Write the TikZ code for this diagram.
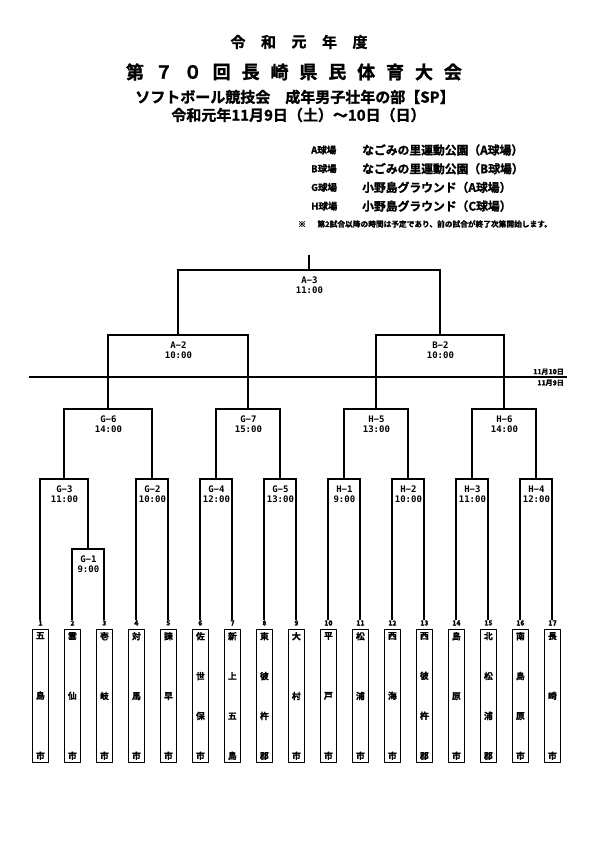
\documentclass[tikz,border=0pt]{standalone}
\usepackage{fontspec}
\setmainfont{Noto Sans CJK JP}[BoldFont={Noto Sans CJK JP Bold}, BoldFeatures={FakeBold=1.3}]
\newfontfamily\monofont{DejaVu Sans Mono}
\usetikzlibrary{positioning}

\newcommand{\tatename}[1]{\parbox[c][127pt][s]{11pt}{\centering #1}}

\begin{document}
\begin{tikzpicture}[x=1pt, y=-1pt,
    every node/.style={font=\bfseries, inner sep=0pt},
    bracket/.style={line width=2.1pt},
    dayline/.style={line width=1.7pt},
    match/.style={font=\monofont\bfseries\fontsize{9}{10}\selectfont, align=center, anchor=north, yshift=-6.5pt},
    teambox/.style={draw, line width=1.3pt, minimum width=15.5pt, minimum height=133pt, font=\bfseries\fontsize{8.8}{9}\selectfont},
    teamno/.style={font=\bfseries\fontsize{7}{7}\selectfont},
    ground/.style={anchor=west, font=\bfseries\fontsize{9.5}{10}\selectfont},
    venue/.style={anchor=west, font=\bfseries\fontsize{11.8}{12}\selectfont},
  ]
  \useasboundingbox (0,0) rectangle (595,842);

  % titles
  \foreach \c [count=\k] in {令,和,元,年,度}
    \node[font=\bfseries\fontsize{15}{15}\selectfont] (nendo\k) at ({238+30.5*(\k-1)},42) {\c};
  \foreach \c [count=\k] in {第,７,０,回,長,崎,県,民,体,育,大,会}
    \node[font=\bfseries\fontsize{18}{18}\selectfont] (taikai\k) at ({135+28.9*(\k-1)},72) {\c};
  \node[font=\bfseries\fontsize{15}{15}\selectfont] (bumon) at (295,97) {ソフトボール競技会　成年男子壮年の部【SP】};
  \node[font=\bfseries\fontsize{15}{15}\selectfont] (kaisai) at (298.5,115) {令和元年11月9日（土）～10日（日）};

  % grounds
  \foreach \k/\grd/\park in {0/A球場/なごみの里運動公園（A球場）, 1/B球場/なごみの里運動公園（B球場）, 2/G球場/小野島グラウンド（A球場）, 3/H球場/小野島グラウンド（C球場）} {
    \node[ground] (g\k) at (311,{150+18.7*\k}) {\grd};
    \node[venue] (v\k) at (362,{150+18.7*\k}) {\park};
  }
  \node[anchor=west, font=\bfseries\fontsize{7.7}{8}\selectfont] (note) at (298,224) {※\hspace{1.5em}第2試合以降の時間は予定であり、前の試合が終了次第開始します。};

  % teams
  \foreach \i/\name in {1/{五\vfill 島\vfill 市}, 2/{雲\vfill 仙\vfill 市}, 3/{壱\vfill 岐\vfill 市},
      4/{対\vfill 馬\vfill 市}, 5/{諫\vfill 早\vfill 市}, 6/{佐\vfill 世\vfill 保\vfill 市},
      7/{新\vfill 上\vfill 五\vfill 島}, 8/{東\vfill 彼\vfill 杵\vfill 郡}, 9/{大\vfill 村\vfill 市},
      10/{平\vfill 戸\vfill 市}, 11/{松\vfill 浦\vfill 市}, 12/{西\vfill 海\vfill 市},
      13/{西\vfill 彼\vfill 杵\vfill 郡}, 14/{島\vfill 原\vfill 市}, 15/{北\vfill 松\vfill 浦\vfill 郡},
      16/{南\vfill 島\vfill 原\vfill 市}, 17/{長\vfill 崎\vfill 市}} {
    \node[teamno] (n\i) at ({40.4+32*(\i-1)},623) {\i};
    \node[teambox] (t\i) at ({40.4+32*(\i-1)},696) {\tatename{\name}};
  }

  % matches
  \foreach \m/\x/\y/\lab/\when in {G1/88.4/549/G−1/9:00, G2/152.4/479/G−2/10:00,
      G3/64.4/479/G−3/11:00, G4/216.4/479/G−4/12:00, G5/280.4/479/G−5/13:00,
      G6/108.4/409/G−6/14:00, G7/248.4/409/G−7/15:00,
      H1/344.4/479/H−1/9:00, H2/408.4/479/H−2/10:00, H3/472.4/479/H−3/11:00,
      H4/536.4/479/H−4/12:00, H5/376.4/409/H−5/13:00, H6/504.4/409/H−6/14:00,
      A2/178.4/335/A−2/10:00, B2/440.4/335/B−2/10:00, A3/309.4/270/A−3/11:00} {
    \coordinate (\m) at (\x,\y);
    \node[match] (\m-lbl) at (\m) {\lab\\\when};
  }
  \coordinate (top) at (309.4,255);

  \draw[bracket] (n2.north) |- (G1) -| (n3.north);
  \draw[bracket] (n1.north) |- (G3) -| (G1);
  \draw[bracket] (n4.north) |- (G2) -| (n5.north);
  \draw[bracket] (n6.north) |- (G4) -| (n7.north);
  \draw[bracket] (n8.north) |- (G5) -| (n9.north);
  \draw[bracket] (n10.north) |- (H1) -| (n11.north);
  \draw[bracket] (n12.north) |- (H2) -| (n13.north);
  \draw[bracket] (n14.north) |- (H3) -| (n15.north);
  \draw[bracket] (n16.north) |- (H4) -| (n17.north);
  \draw[bracket] (G3) |- (G6) -| (G2);
  \draw[bracket] (G4) |- (G7) -| (G5);
  \draw[bracket] (H1) |- (H5) -| (H2);
  \draw[bracket] (H3) |- (H6) -| (H4);
  \draw[bracket] (G6) |- (A2) -| (G7);
  \draw[bracket] (H5) |- (B2) -| (H6);
  \draw[bracket] (A2) |- (A3) -| (B2);
  \draw[bracket] (A3) -- (top);

  % day border
  \coordinate (dleft) at (29,377);
  \coordinate (dright) at (567,377);
  \draw[dayline] (dleft) -- (dright);
  \node[anchor=south east, font=\bfseries\fontsize{7}{7}\selectfont] (day10) at (564,375) {11月10日};
  \node[anchor=north east, font=\bfseries\fontsize{7}{7}\selectfont] (day9) at (564,379.5) {11月9日};
\end{tikzpicture}
\end{document}
